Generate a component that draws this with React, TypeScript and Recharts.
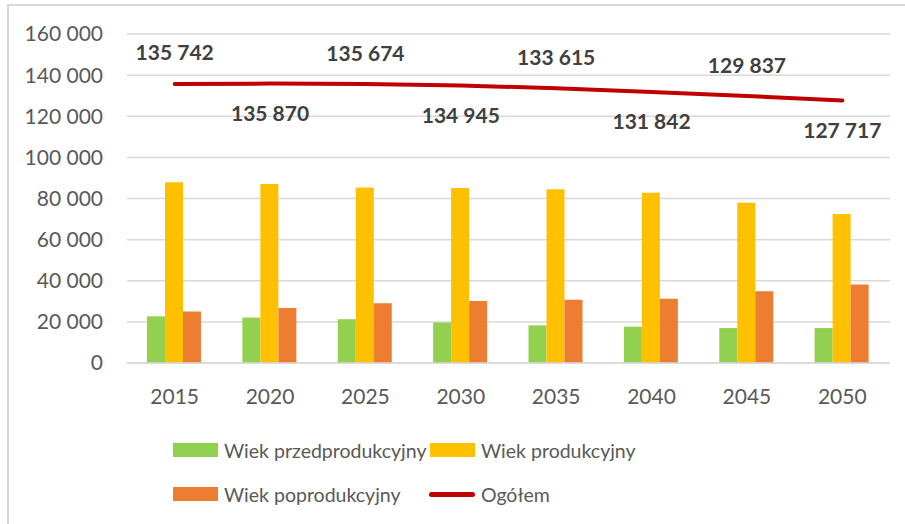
import React from "react";
import {
  ComposedChart,
  Bar,
  Line,
  XAxis,
  YAxis,
  CartesianGrid,
  LabelList,
} from "recharts";

const years = ["2015", "2020", "2025", "2030", "2035", "2040", "2045", "2050"];
const preProductive = [22700, 22100, 21300, 19700, 18300, 17700, 17000, 17000];
const productive = [87900, 87000, 85400, 85100, 84500, 82800, 77900, 72500];
const postProductive = [25100, 26700, 29000, 30100, 30800, 31300, 34900, 38200];
const total = [135742, 135870, 135674, 134945, 133615, 131842, 129837, 127717];
const yTicks = [0, 20000, 40000, 60000, 80000, 100000, 120000, 140000, 160000];

const seriesNames = {
  pre: "Wiek przedprodukcyjny",
  prod: "Wiek produkcyjny",
  post: "Wiek poprodukcyjny",
  total: "Ogółem",
};

const COLORS = {
  pre: "#92D050",
  prod: "#FFC000",
  post: "#ED7D31",
  total: "#C00000",
};

const data = years.map((y, i) => ({
  year: y,
  pre: preProductive[i],
  prod: productive[i],
  post: postProductive[i],
  total: total[i],
}));

const fmt = (v: number) => String(v).replace(/\B(?=(\d{3})+(?!\d))/g, " ");

const FONT = "Lato, 'Open Sans', sans-serif";

const TotalLabel = (props: any) => {
  const { x, y, index, value } = props;
  const above = index % 2 === 0;
  return (
    <text
      x={x}
      y={above ? y - 32 : y + 29}
      textAnchor="middle"
      dominantBaseline="central"
      fontFamily={FONT}
      fontWeight="bold"
      fontSize={21}
      fill="#404040"
    >
      {fmt(value)}
    </text>
  );
};

const LegendItem = ({
  left,
  top,
  color,
  label,
  line,
}: {
  left: number;
  top: number;
  color: string;
  label: string;
  line?: boolean;
}) => (
  <div
    style={{
      position: "absolute",
      left,
      top: top - 12,
      height: 24,
      display: "flex",
      alignItems: "center",
      fontFamily: FONT,
      fontSize: 19.5,
      color: "#595959",
      whiteSpace: "nowrap",
    }}
  >
    {line ? (
      <div
        style={{
          width: 46,
          height: 5,
          borderRadius: 3,
          background: color,
          marginRight: 6,
        }}
      />
    ) : (
      <div style={{ width: 45, height: 14, background: color, marginRight: 6 }} />
    )}
    <span>{label}</span>
  </div>
);

export default function App() {
  return (
    <div
      style={{
        position: "absolute",
        left: 0,
        top: 0,
        width: 905,
        height: 524,
        background: "#fff",
        overflow: "hidden",
      }}
    >
      <div
        style={{
          position: "absolute",
          left: 7,
          top: 4,
          width: 920,
          height: 540,
          borderTop: "2px solid #D9D9D9",
          borderLeft: "2px solid #D9D9D9",
        }}
      />
      <div style={{ position: "absolute", left: 0, top: 0 }}>
        <ComposedChart
          width={905}
          height={524}
          data={data}
          margin={{ top: 34, right: 15, left: 0, bottom: 131 }}
          barCategoryGap={20}
          barGap={0}
        >
          <CartesianGrid
            vertical={false}
            stroke="#D9D9D9"
            strokeWidth={1.5}
          />
          <XAxis
            dataKey="year"
            tickLine={false}
            axisLine={{ stroke: "#D9D9D9", strokeWidth: 1.5 }}
            tickMargin={20}
            height={30}
            tick={{ fill: "#595959", fontFamily: FONT, fontSize: 21 }}
            interval={0}
          />
          <YAxis
            width={127}
            domain={[0, 160000]}
            ticks={yTicks}
            tickFormatter={fmt}
            tickLine={false}
            axisLine={false}
            tickMargin={18}
            tick={{ fill: "#595959", fontFamily: FONT, fontSize: 21 }}
            interval={0}
          />
          <Bar dataKey="pre" name={seriesNames.pre} fill={COLORS.pre} isAnimationActive={false} />
          <Bar dataKey="prod" name={seriesNames.prod} fill={COLORS.prod} isAnimationActive={false} />
          <Bar dataKey="post" name={seriesNames.post} fill={COLORS.post} isAnimationActive={false} />
          <Line
            dataKey="total"
            name={seriesNames.total}
            type="linear"
            stroke={COLORS.total}
            strokeWidth={4}
            strokeLinecap="round"
            dot={false}
            activeDot={false}
            isAnimationActive={false}
          >
            <LabelList dataKey="total" content={TotalLabel} />
          </Line>
        </ComposedChart>
      </div>
      <LegendItem left={173} top={450} color={COLORS.pre} label={seriesNames.pre} />
      <LegendItem left={430} top={450} color={COLORS.prod} label={seriesNames.prod} />
      <LegendItem left={173} top={494} color={COLORS.post} label={seriesNames.post} />
      <LegendItem left={429} top={494} color={COLORS.total} label={seriesNames.total} line />
    </div>
  );
}
